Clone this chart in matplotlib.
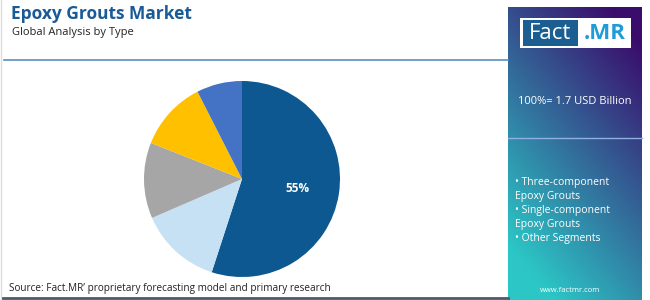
import numpy as np
import matplotlib
matplotlib.use("Agg")
import matplotlib.pyplot as plt
from matplotlib.patches import Rectangle

# data
segments = ["Three-component Epoxy Grouts", "Single-component Epoxy Grouts",
            "Segment 3", "Segment 4", "Other Segments"]
shares = [55, 13.5, 12.5, 11.5, 7.5]
colors = ["#0d5890", "#c6e1f3", "#a6a6a6", "#ffc000", "#4472c4"]
legend_lines = ["• Three-component", "Epoxy Grouts", "• Single-component",
                "Epoxy Grouts", "• Other Segments"]

title = "Epoxy Grouts Market"
subtitle = "Global Analysis by Type"
total_text = "100%= 1.7 USD Billion"
source = "Source: Fact.MR’ proprietary forecasting model and primary research"

plt.rcParams['font.family'] = ['Open Sans', 'DejaVu Sans']

W, H = 650, 300
fig = plt.figure(figsize=(W / 100, H / 100), dpi=100)

# background axes in pixel coordinates (y down)
bg = fig.add_axes([0, 0, 1, 1])
bg.set_xlim(0, W)
bg.set_ylim(H, 0)
bg.axis("off")

# left border and rules
bg.plot([1, 1], [0, H], color="#dddddd", lw=1)
bg.plot([4, 508], [60, 60], color="#5b8fc0", lw=1.2)
bg.plot([3, 508], [297.5, 297.5], color="#4d5a68", lw=2)

# gradient side panel
ny, nx = 200, 100
yy, xx = np.mgrid[0:1:ny * 1j, 0:1:nx * 1j]
t = np.clip(0.8 * yy + 0.45 * (1 - xx) - 0.1, 0, 1)
top = np.array([0x3a, 0x0c, 0x6c]) / 255
bot = np.array([0x2c, 0xc6, 0xc6]) / 255
img = top[None, None, :] * (1 - t[..., None]) + bot[None, None, :] * t[..., None]
bg.imshow(img, extent=[508, 642, 300, 7], aspect="auto", zorder=1)
bg.plot([508, 642], [138, 138], color="#8fb0e0", lw=1, zorder=2)

# logo
bg.add_patch(Rectangle((520, 18), 111, 30, facecolor="white", zorder=3))
bg.add_patch(Rectangle((523, 20), 55, 26, facecolor="#1b5e92", zorder=4))
bg.text(550, 33.5, "Fact", color="white", fontsize=16, ha="center", va="center", zorder=5)
bg.text(605, 33.5, ".MR", color="#1f9bd7", fontsize=16, fontweight="bold",
        ha="center", va="center", zorder=5)

bg.text(575, 101, total_text, color="white", fontsize=8, ha="center", va="center", zorder=5)
for i, line in enumerate(legend_lines):
    bg.text(515, 182 + i * 14, line, color="white", fontsize=7.5, ha="left", va="center", zorder=5)
bg.text(570, 290, "www.factmr.com", color="white", fontsize=5.5, ha="center", va="center", zorder=5)

# titles
bg.text(11, 14, title, color="#1a5a96", fontsize=12.5, fontweight="bold", ha="left", va="center")
bg.text(12, 33, subtitle, color="#222222", fontsize=8, ha="left", va="center")
bg.text(9, 289, source, color="#222222", fontsize=7.2, ha="left", va="center")

# pie
cx, cy, r = 242, 179, 98
ax = fig.add_axes([(cx - r) / W, (H - cy - r) / H, 2 * r / W, 2 * r / H])
wedges, _ = ax.pie(shares, colors=colors, startangle=90, counterclock=False,
                   radius=1, wedgeprops=dict(linewidth=0))
ax.set_xlim(-1, 1)
ax.set_ylim(-1, 1)
ax.axis("off")
ax.text(0.57, -0.1, f"{shares[0]:.0f}%", color="white", fontsize=8.5, fontweight="bold",
        ha="center", va="center")

fig.savefig("out.png", dpi=100)
